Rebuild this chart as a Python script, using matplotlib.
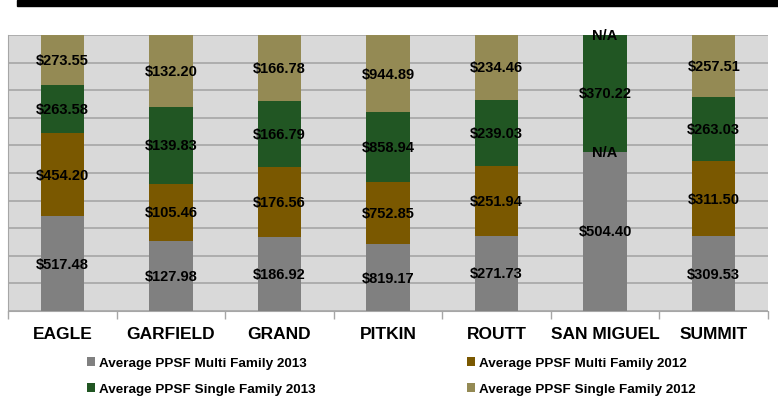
import matplotlib.pyplot as plt
import numpy as np
from matplotlib.patches import Rectangle

counties = ["EAGLE", "GARFIELD", "GRAND", "PITKIN", "ROUTT", "SAN MIGUEL", "SUMMIT"]
multi_2013 = [517.48, 127.98, 186.92, 819.17, 271.73, 504.40, 309.53]
multi_2012 = [454.20, 105.46, 176.56, 752.85, 251.94, None, 311.50]
single_2013 = [263.58, 139.83, 166.79, 858.94, 239.03, 370.22, 263.03]
single_2012 = [273.55, 132.20, 166.78, 944.89, 234.46, None, 257.51]

series = [
    ("Average PPSF Multi Family 2013", multi_2013, "#808080"),
    ("Average PPSF Multi Family 2012", multi_2012, "#7a5800"),
    ("Average PPSF Single Family 2013", single_2013, "#215623"),
    ("Average PPSF Single Family 2012", single_2012, "#948a54"),
]

plt.rcParams['font.family'] = ['Liberation Sans', 'DejaVu Sans']

fig = plt.figure(figsize=(7.78, 4.02), dpi=100)
ax = fig.add_axes([8 / 778, 90 / 402, 760 / 778, 276 / 402])
ax.set_facecolor("#d9d9d9")

x = np.arange(len(counties))
vals = np.array([[v if v is not None else 0.0 for v in s[1]] for s in series])
totals = vals.sum(axis=0)
frac = vals / totals

bottom = np.zeros(len(counties))
handles = []
for k, (name, raw, col) in enumerate(series):
    b = ax.bar(x, frac[k], 0.4, bottom=bottom, color=col, label=name, zorder=3)
    handles.append(b)
    for i, v in enumerate(raw):
        txt = "N/A" if v is None else f"${v:,.2f}"
        ax.text(x[i], bottom[i] + frac[k][i] / 2, txt, ha="center", va="center",
                fontsize=10.5, fontweight="bold", color="black", zorder=5)
    bottom += frac[k]

ax.set_xlim(-0.5, len(counties) - 0.5)
ax.set_ylim(0, 1)
ax.set_yticks(np.linspace(0, 1, 11))
ax.set_yticklabels([])
ax.tick_params(axis="y", length=0)
ax.grid(axis="y", color="#a6a6a6", linewidth=1.2, zorder=0)

ax.set_xticks(x)
ax.set_xticklabels(counties, fontsize=12.5, fontweight="bold")
ax.tick_params(axis="x", length=0, pad=11)
ax.set_xticks(np.arange(-0.5, len(counties)), minor=True)
ax.tick_params(axis="x", which="minor", length=6, color="#a6a6a6", width=1)

for side in ["top", "right"]:
    ax.spines[side].set_visible(False)
ax.spines["left"].set_color("#a6a6a6")
ax.spines["bottom"].set_color("#a6a6a6")

order = [0, 2, 1, 3]
fig.legend([handles[i] for i in order], [series[i][0] for i in order],
           loc="center", bbox_to_anchor=(0.503, 0.062), ncol=2, frameon=False,
           prop={"weight": "bold", "size": 9.7}, handlelength=0.6, handleheight=0.6,
           handletextpad=0.3, columnspacing=11.25, labelspacing=1.05)

fig.add_artist(Rectangle((17 / 778, 395 / 402), 761 / 778, 6 / 402,
                         transform=fig.transFigure, color="black"))

fig.savefig("out.png", dpi=100)
